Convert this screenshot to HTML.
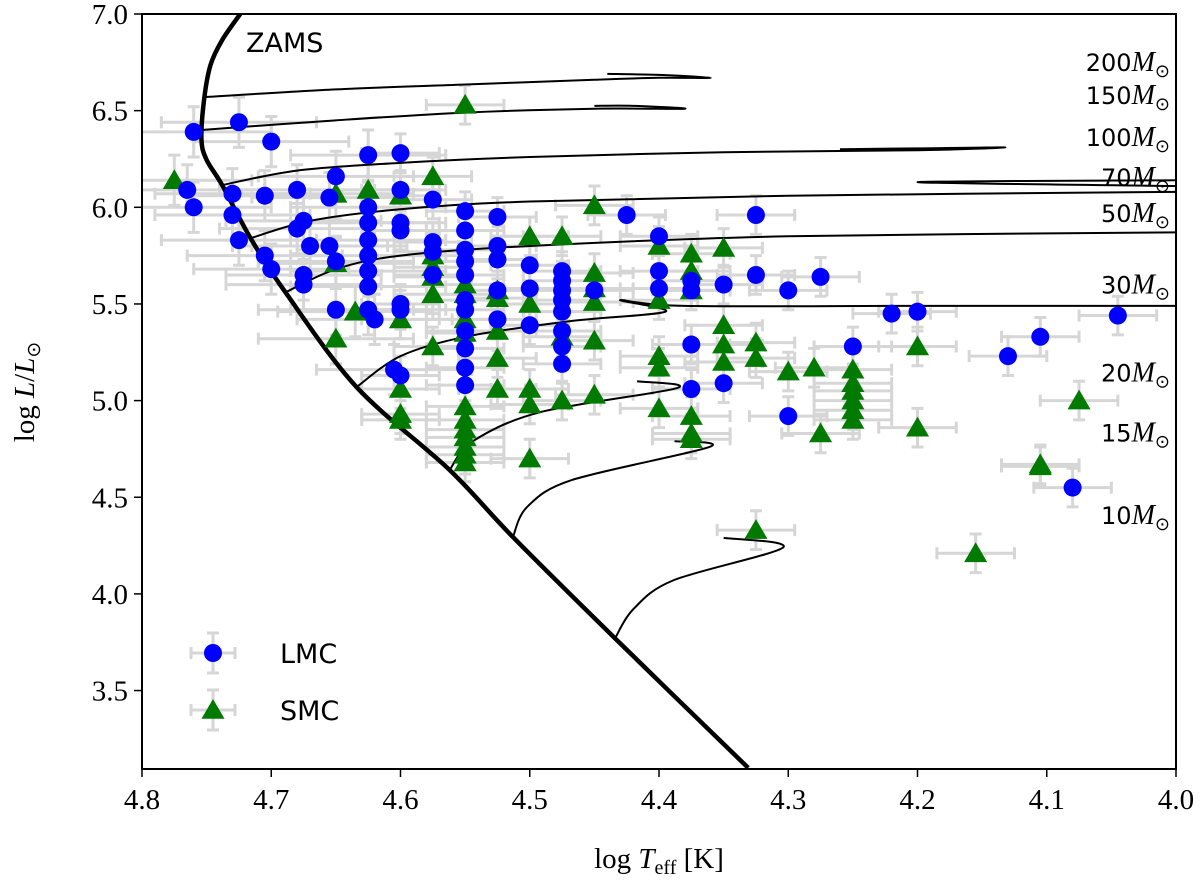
<!DOCTYPE html>
<html><head><meta charset="utf-8"><style>
body{margin:0;background:#fff}
svg{display:block}
</style></head><body>
<svg id="c" width="1200" height="891"></svg>
<script>
const lmcX=[4.76,4.725,4.70,4.765,4.76,4.73,4.73,4.725,4.705,4.705,4.70,4.68,4.675,4.68,4.67,4.675,4.675,4.655,4.655,4.65,4.65,4.65,4.625,4.625,4.625,4.625,4.625,4.625,4.625,4.625,4.62,4.60,4.60,4.60,4.60,4.60,4.60,4.605,4.60,4.575,4.575,4.575,4.575,4.55,4.55,4.55,4.55,4.55,4.55,4.55,4.55,4.55,4.55,4.55,4.525,4.525,4.525,4.525,4.525,4.5,4.5,4.5,4.475,4.475,4.475,4.475,4.475,4.475,4.475,4.475,4.45,4.425,4.40,4.40,4.40,4.375,4.375,4.375,4.375,4.35,4.35,4.325,4.325,4.30,4.30,4.275,4.25,4.22,4.20,4.13,4.105,4.08,4.045];
const lmcY=[6.39,6.44,6.34,6.09,6.0,6.07,5.96,5.83,6.06,5.75,5.68,6.09,5.93,5.89,5.80,5.65,5.60,6.05,5.80,5.72,5.47,6.16,6.27,6.00,5.92,5.83,5.75,5.67,5.59,5.47,5.42,6.28,6.09,5.92,5.88,5.50,5.47,5.16,5.13,6.04,5.82,5.77,5.65,5.98,5.88,5.78,5.72,5.65,5.52,5.47,5.36,5.27,5.17,5.08,5.95,5.80,5.73,5.57,5.42,5.70,5.58,5.39,5.67,5.62,5.57,5.52,5.46,5.36,5.28,5.19,5.57,5.96,5.85,5.67,5.58,5.62,5.57,5.29,5.06,5.60,5.09,5.96,5.65,5.57,4.92,5.64,5.28,5.45,5.46,5.23,5.33,4.55,5.44];
const smcX=[4.775,4.65,4.625,4.60,4.575,4.65,4.635,4.65,4.60,4.60,4.60,4.60,4.575,4.575,4.575,4.575,4.575,4.55,4.55,4.55,4.55,4.55,4.55,4.55,4.55,4.55,4.55,4.55,4.55,4.525,4.525,4.525,4.525,4.525,4.50,4.50,4.50,4.50,4.50,4.475,4.475,4.475,4.45,4.45,4.45,4.45,4.45,4.45,4.40,4.40,4.40,4.40,4.40,4.375,4.375,4.375,4.375,4.375,4.375,4.35,4.35,4.35,4.35,4.325,4.325,4.30,4.28,4.275,4.25,4.25,4.25,4.25,4.25,4.25,4.20,4.20,4.155,4.105,4.105,4.075,4.325];
const smcY=[6.14,6.07,6.09,6.06,6.16,5.71,5.46,5.32,5.42,5.06,4.93,4.90,5.75,5.69,5.64,5.55,5.28,6.53,5.60,5.55,5.42,5.35,4.97,4.90,4.85,4.81,4.76,4.72,4.68,5.57,5.53,5.36,5.22,5.06,5.85,5.50,5.06,4.98,4.70,5.85,5.33,5.00,6.01,5.66,5.58,5.51,5.31,5.03,5.80,5.52,5.23,5.17,4.96,5.76,5.67,5.57,4.92,4.83,4.80,5.79,5.39,5.29,5.20,5.30,5.22,5.15,5.17,4.83,5.16,5.09,5.05,5.00,4.95,4.90,5.28,4.86,4.21,4.67,4.66,5.00,4.33];
const xTicks=[4.8,4.7,4.6,4.5,4.4,4.3,4.2,4.1,4.0];
const yTicks=[3.5,4.0,4.5,5.0,5.5,6.0,6.5,7.0];
const zams=[[4.724,7.0],[4.738,6.865],[4.747,6.736],[4.752,6.555],[4.754,6.35],[4.750,6.245],[4.738,6.115],[4.716,5.84],[4.689,5.56],[4.634,5.07],[4.562,4.641],[4.513,4.294],[4.434,3.77],[4.331,3.10]];
const tracks=[
[[4.752,6.57],[4.65,6.61],[4.55,6.635],[4.45,6.66],[4.40,6.67],[4.36,6.67],[4.40,6.685],[4.44,6.69]],
[[4.754,6.40],[4.65,6.45],[4.55,6.49],[4.45,6.51],[4.38,6.51],[4.42,6.525],[4.45,6.525]],
[[4.738,6.115],[4.68,6.19],[4.6,6.23],[4.5,6.26],[4.35,6.285],[4.2,6.295],[4.132,6.31],[4.2,6.305],[4.26,6.30]],
[[4.716,5.84],[4.67,5.93],[4.6,5.99],[4.5,6.03],[4.3,6.06],[4.0,6.08]],
[[4.0,6.14],[4.2,6.13],[4.0,6.11]],
[[4.689,5.56],[4.65,5.68],[4.6,5.75],[4.5,5.80],[4.3,5.85],[4.0,5.87]],
[[4.634,5.07],[4.60,5.23],[4.55,5.33],[4.47,5.41],[4.395,5.46],[4.43,5.52],[4.38,5.49],[4.2,5.49],[4.0,5.49]],
[[4.562,4.641],[4.544,4.79],[4.492,4.94],[4.386,5.065],[4.417,5.10]],
[[4.513,4.294],[4.502,4.45],[4.467,4.59],[4.361,4.76],[4.388,4.79]],
[[4.434,3.77],[4.42,3.92],[4.389,4.07],[4.304,4.24],[4.35,4.29]]];
const massLabels=["200","150","100","70","50","30","20","15","10"];
const massLabelY=[6.752,6.581,6.364,6.157,5.97,5.60,5.145,4.835,4.408];

const NS="http://www.w3.org/2000/svg";
const svg=document.getElementById('c');
const L=142,R=1176,T=14,B=769;
const SERIF="Liberation Serif, serif", SANS="DejaVu Sans, Liberation Sans, sans-serif";
const X=v=>L+(4.8-v)/0.8*(R-L);
const Y=v=>T+(7.0-v)/0.5*96.65;
function el(t,a,p){const e=document.createElementNS(NS,t);for(const k in a)e.setAttribute(k,a[k]);(p||svg).appendChild(e);return e;}
function smooth(arr){const p=arr.map(q=>[X(q[0]),Y(q[1])]);let d=`M${p[0][0]},${p[0][1]}`;
 for(let i=0;i<p.length-1;i++){const a=p[Math.max(i-1,0)],b=p[i],c=p[i+1],e=p[Math.min(i+2,p.length-1)];
  const t=0.16;d+=`C${b[0]+(c[0]-a[0])*t},${b[1]+(c[1]-a[1])*t} ${c[0]-(e[0]-b[0])*t},${c[1]-(e[1]-b[1])*t} ${c[0]},${c[1]}`;}
 return d;}
const clip=el('clipPath',{id:'pc'});el('rect',{x:L,y:T,width:R-L,height:B-T},clip);
const gE=el('g',{stroke:'#d6d6d6','stroke-width':3,fill:'none','clip-path':'url(#pc)'});


function err(x,y){const ex=x>4.6?0.06:0.03,ey=x>4.6?0.13:0.1;
 const x1=X(x+ex),x2=X(x-ex),y1=Y(y+ey),y2=Y(y-ey),cx=X(x),cy=Y(y);
 el('path',{d:`M${x1},${cy}H${x2}M${cx},${y1}V${y2}M${x1},${cy-6}v12M${x2},${cy-6}v12M${cx-6},${y1}h12M${cx-6},${y2}h12`},gE);}
lmcX.forEach((x,i)=>err(x,lmcY[i]));smcX.forEach((x,i)=>err(x,smcY[i]));
const gT=el('g',{stroke:'#000',fill:'none','clip-path':'url(#pc)','stroke-linejoin':'round'});
tracks.forEach((tr,i)=>{const p=el('path',{d:smooth(tr),'stroke-width':2},gT);
 
 });
const z=el('path',{d:smooth(zams),'stroke-width':4.5},gT);


function tri(cx,cy,s){return `${cx},${cy-s} ${cx-s*1.05},${cy+s*0.8} ${cx+s*1.05},${cy+s*0.8}`;}
smcX.forEach((x,i)=>{const p=el('polygon',{points:tri(X(x),Y(smcY[i]),11),fill:'#007a00'});
 
 });
lmcX.forEach((x,i)=>{const c=el('circle',{cx:X(x),cy:Y(lmcY[i]),r:9,fill:'#0000ff'});
 
 });
massLabels.forEach((m,i)=>{const t=el('text',{x:1170,y:Y(massLabelY[i])+9,'text-anchor':'end','font-size':24,'font-family':SANS});
 t.innerHTML=m+'<tspan font-family="Liberation Serif,serif" font-style="italic" font-size="28">M</tspan><tspan font-size="18" dy="6">⊙</tspan>';
 
 });
const zt=el('text',{x:246,y:52,'font-size':27,'font-family':SANS});zt.textContent='ZAMS';


const fr=el('rect',{x:L,y:T,width:R-L,height:B-T,fill:'none',stroke:'#000','stroke-width':2});


xTicks.forEach(v=>{el('line',{x1:X(v),x2:X(v),y1:B,y2:B+8,stroke:'#000','stroke-width':1.5});
 const t=el('text',{x:X(v),y:B+40,'text-anchor':'middle','font-family':SERIF,'font-size':29});t.textContent=v.toFixed(1);
 
 });
yTicks.forEach(v=>{el('line',{x1:L-8,x2:L,y1:Y(v),y2:Y(v),stroke:'#000','stroke-width':1.5});
 const t=el('text',{x:L-14,y:Y(v)+10,'text-anchor':'end','font-family':SERIF,'font-size':29});t.textContent=v.toFixed(1);
 
 });
const xt=el('text',{x:659,y:868,'text-anchor':'middle','font-family':SERIF,'font-size':29});
xt.innerHTML='log <tspan font-style="italic">T</tspan><tspan font-size="20" dy="6">eff</tspan><tspan dy="-6"> [K]</tspan>';


const yt=el('text',{x:0,y:0,'text-anchor':'middle','font-family':SERIF,'font-size':29,transform:'translate(34,392) rotate(-90)'});
yt.innerHTML='log <tspan font-style="italic">L</tspan>/<tspan font-style="italic">L</tspan><tspan font-size="19" dy="6">⊙</tspan>';


const lg=el('g',{});


[[653,'LMC'],[710,'SMC']].forEach((r,i)=>{const cx=213,cy=r[0];
 el('path',{d:`M${cx-22},${cy}h44M${cx},${cy-20}v40M${cx-22},${cy-6}v12M${cx+22},${cy-6}v12M${cx-6},${cy-20}h12M${cx-6},${cy+20}h12`,stroke:'#d6d6d6','stroke-width':3,fill:'none'},lg);
 if(i==0)el('circle',{cx,cy,r:9,fill:'#0000ff'},lg);else el('polygon',{points:tri(cx,cy,11),fill:'#007a00'},lg);
 const t=el('text',{x:280,y:cy+10,'font-size':27,'font-family':SANS},lg);t.textContent=r[1];
 
 });
</script>
</body></html>
